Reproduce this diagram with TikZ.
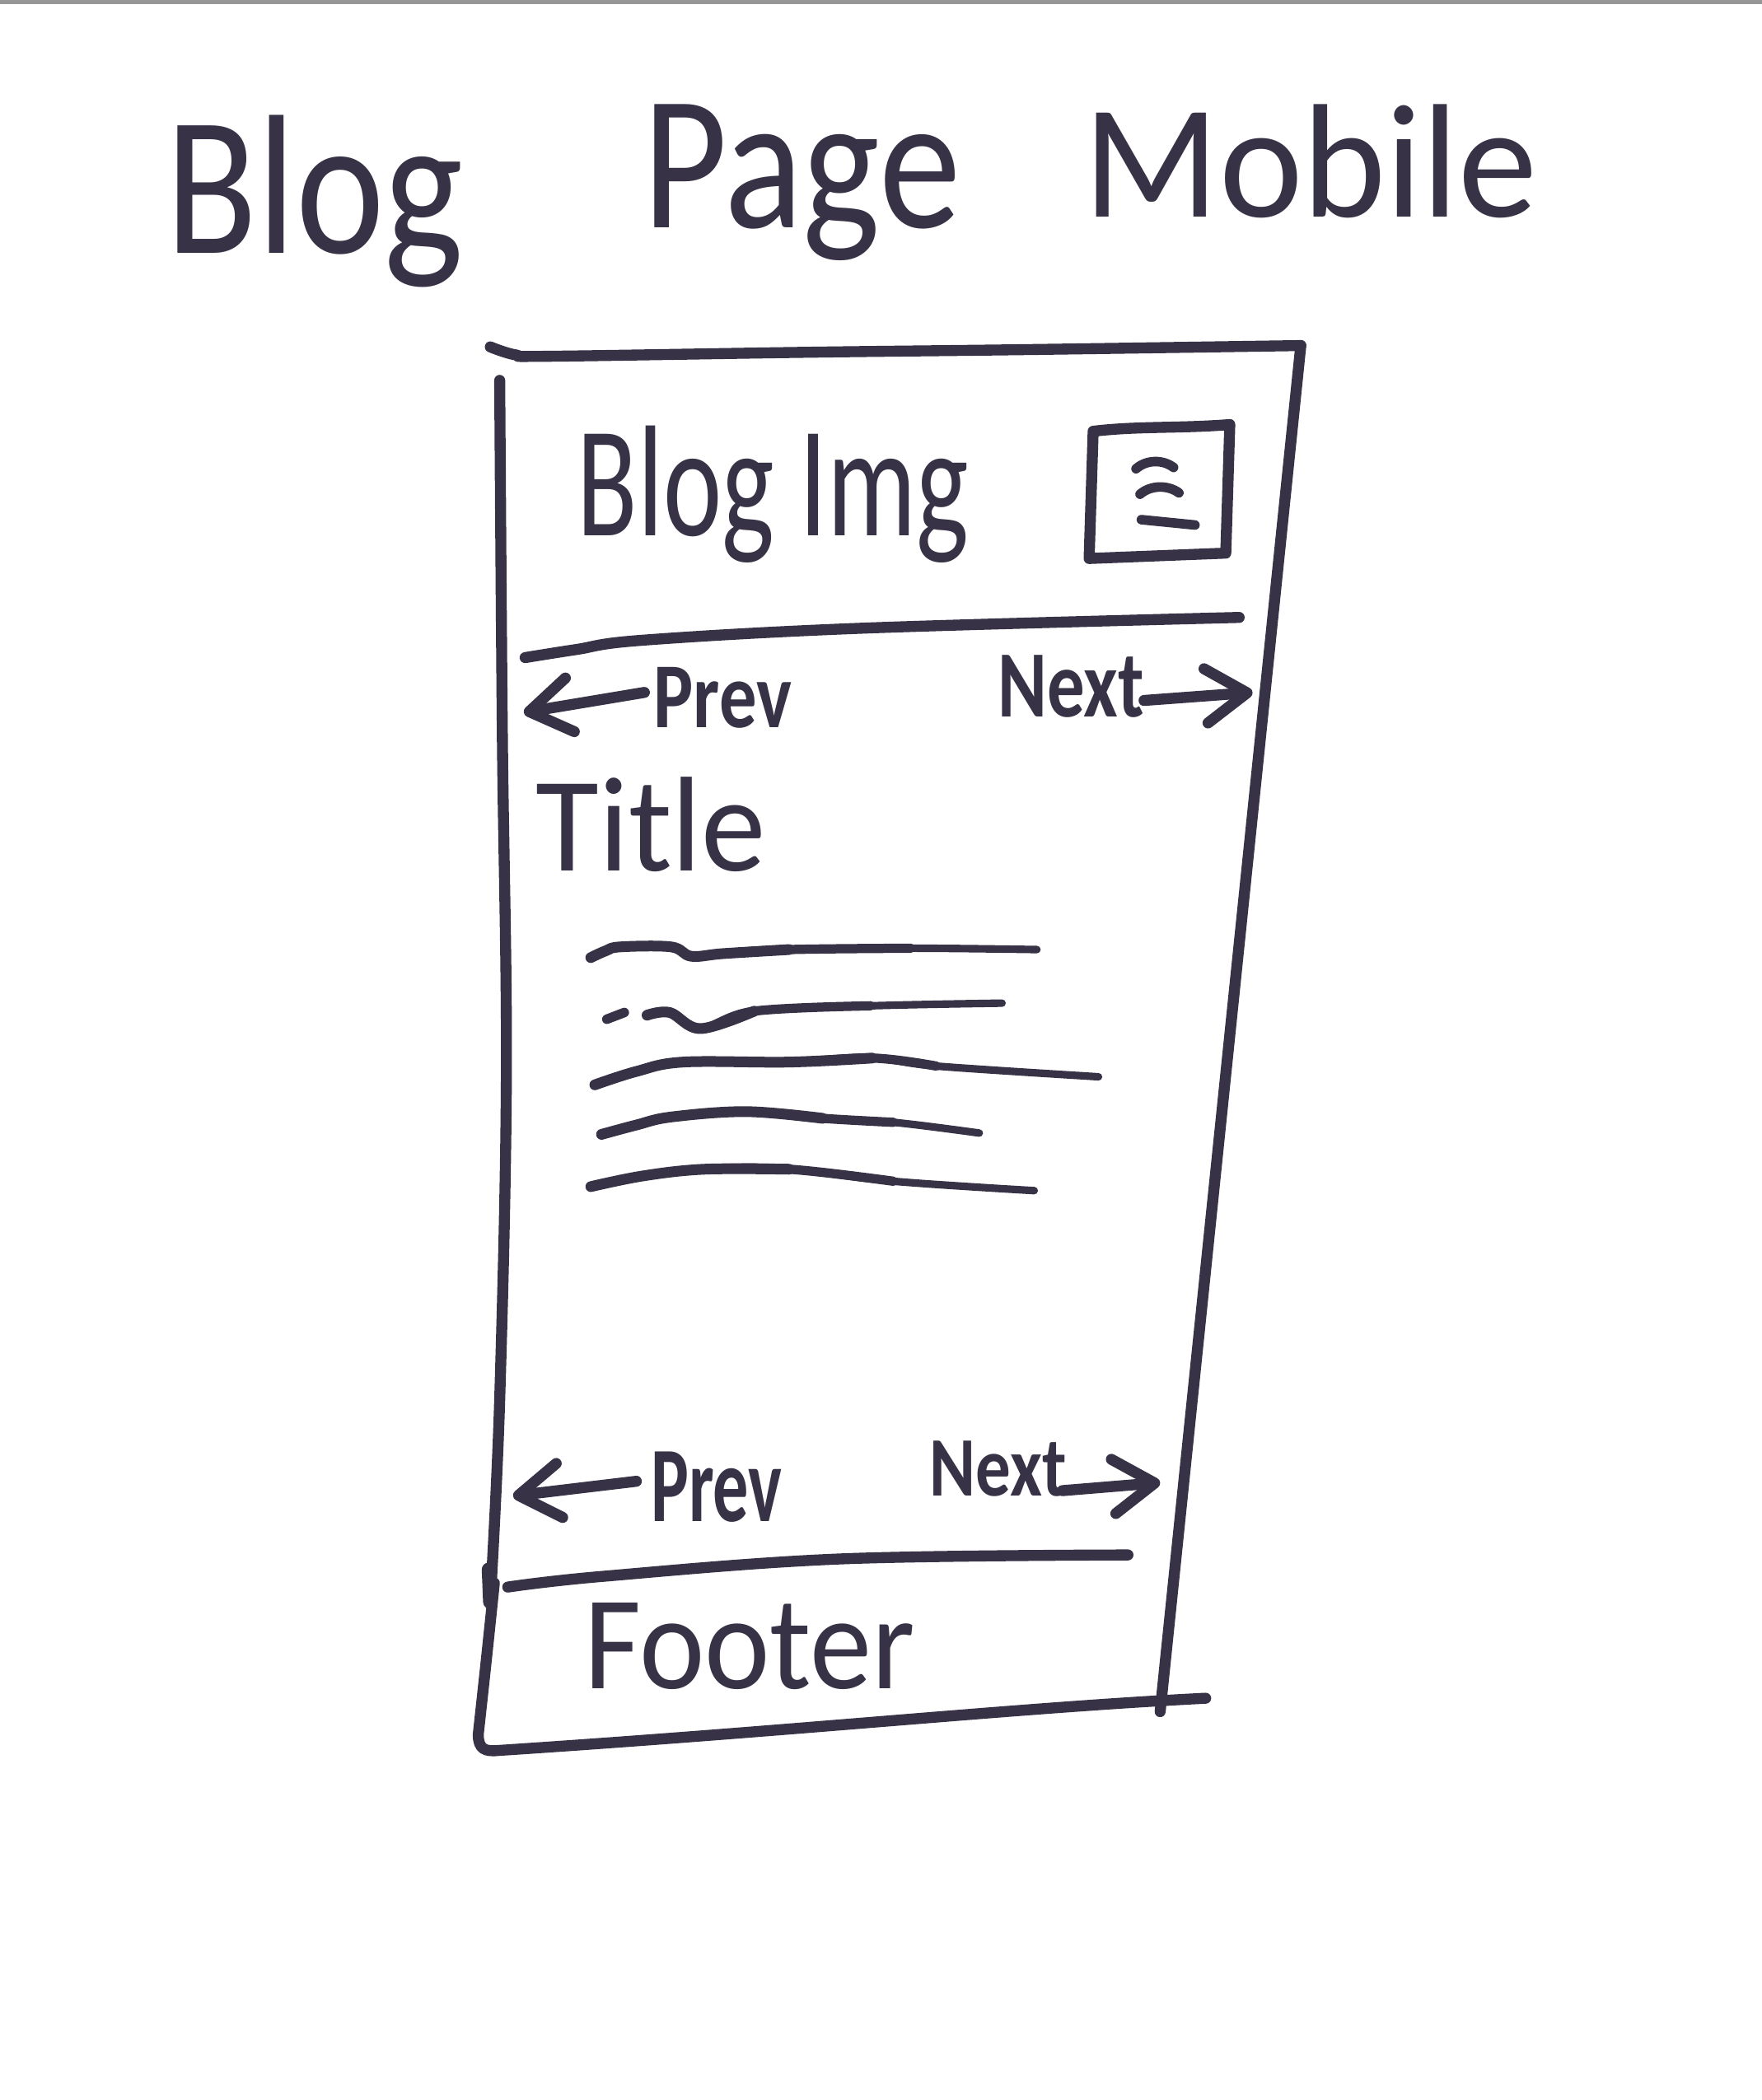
\documentclass[tikz,border=0pt]{standalone}
\usepackage{fontspec}
\setmainfont{Carlito}
\usetikzlibrary{arrows.meta}
\definecolor{ink}{RGB}{56,50,70}
\definecolor{scanedge}{RGB}{150,150,150}
% one drawing unit, as a TeX length, for sizing the words
\newlength\inkunit
\setlength\inkunit{0.01626cm}
% a word squeezed into a box of given width and height (in drawing units)
\newcommand\penword[3]{\resizebox{#1\inkunit}{#2\inkunit}{#3}}

\begin{document}
\begin{tikzpicture}[x=0.01626cm,y=-0.01626cm,
  pen/.style={draw=ink, line width=3.8pt, line cap=round, line join=round},
  fine/.style={draw=ink, line width=3.3pt, line cap=round, line join=round},
  thick stroke/.style={draw=ink, line width=3.7pt, line cap=round, line join=round},
  mid stroke/.style={draw=ink, line width=3.2pt, line cap=round, line join=round},
  thin tail/.style={draw=ink, line width=2.6pt, line cap=round, line join=round},
  word/.style={inner sep=0pt, outer sep=0pt, anchor=base west, text=ink},
  penarrow/.style={pen, -{Straight Barb[length=0.5cm, width=0.66cm, round]}},
]
% paper
\fill[white] (0,0) rectangle (1315,1568);
\useasboundingbox (0,0) rectangle (1315,1568);
\fill[scanedge] (0,0) rectangle (1315,3);

% heading
\node[word] (hBlog)   at (124,189) {\penword{222}{103}{Blog}};
\node[word] (hPage)   at (480,170) {\penword{237}{92}{Page}};
\node[word] (hMobile) at (809,162) {\penword{339}{84}{Mobile}};

% phone frame
\draw[pen] plot[smooth, tension=0.6] coordinates {(366,259)(385,265)(410,266)(604,263)(769,261)(971,258)};
\draw[pen] (971,258) -- (866,1278);
\draw[pen] plot[smooth, tension=0.6] coordinates {(373,284)(375,550)(378,800)(373,1045)(366,1195)};
\draw[pen] (369,1182) .. controls (363,1240) .. (357,1295)
           .. controls (357,1306) and (362,1308) .. (372,1307)
           .. controls (600,1292) and (760,1275) .. (900,1268);
\draw[ink, line width=5pt, line cap=round] (365,1172) -- (366,1196);

% header bar
\node[word] (logo) at (431,400) {\penword{292}{82}{Blog Img}};
\draw[pen] (816,322) .. controls (850,318) and (880,320) .. (918,317)
           -- (915,413) -- (813,417) -- cycle;
\draw[fine] (848,350) .. controls (856,343) and (868,343) .. (876,349);
\draw[fine] (851,369) .. controls (859,362) and (872,362) .. (880,368);
\draw[fine] (852,388) -- (892,392);
\draw[pen] plot[smooth, tension=0.6] coordinates {(392,491)(430,485)(480,478)(645,469)(925,461)};

% top pager
\node[word] (prevTop) at (488,543) {\penword{103}{45}{\bfseries Prev}};
\node[word] (nextTop) at (745,535) {\penword{109}{46}{\bfseries Next}};
\coordinate (prevTopTail) at (481,517);
\coordinate (prevTopTip)  at (391,532);
\coordinate (nextTopTail) at (854,523);
\coordinate (nextTopTip)  at (935,517);
\draw[penarrow] (prevTopTail) -- (prevTopTip);
\draw[penarrow] (nextTopTail) -- (nextTopTip);

% post title and text lines (heavy start, thinning tail)
\node[word] (title) at (400,650) {\penword{172}{70}{Title}};
\draw[thin tail] plot[smooth, tension=0.6] coordinates {(441,715)(452,710)(463,707)(501,707)(516,714)(540,712)(589,709)(680,708)(774,709)};
\draw[mid stroke] plot[smooth, tension=0.6] coordinates {(441,715)(452,710)(463,707)(501,707)(516,714)(540,712)(589,709)(680,708)};
\draw[thick stroke] plot[smooth, tension=0.6] coordinates {(441,715)(452,710)(463,707)(501,707)(516,714)(540,712)(589,709)};
\draw[fine] (453,761) -- (466,756);
\draw[thin tail] plot[smooth, tension=0.6] coordinates {(483,758)(500,756)(523,768)(563,755)(650,751)(748,749)};
\draw[mid stroke] plot[smooth, tension=0.6] coordinates {(483,758)(500,756)(523,768)(563,755)(650,751)};
\draw[thick stroke] plot[smooth, tension=0.6] coordinates {(483,758)(500,756)(523,768)(563,755)};
\draw[thin tail] plot[smooth, tension=0.6] coordinates {(444,810)(475,800)(510,793)(589,793)(651,790)(699,796)(820,804)};
\draw[mid stroke] plot[smooth, tension=0.6] coordinates {(444,810)(475,800)(510,793)(589,793)(651,790)(699,796)};
\draw[thick stroke] plot[smooth, tension=0.6] coordinates {(444,810)(475,800)(510,793)(589,793)(651,790)};
\draw[thin tail] plot[smooth, tension=0.6] coordinates {(449,847)(475,840)(501,834)(557,830)(614,835)(667,838)(731,846)};
\draw[mid stroke] plot[smooth, tension=0.6] coordinates {(449,847)(475,840)(501,834)(557,830)(614,835)(667,838)};
\draw[thick stroke] plot[smooth, tension=0.6] coordinates {(449,847)(475,840)(501,834)(557,830)(614,835)};
\draw[thin tail] plot[smooth, tension=0.6] coordinates {(441,886)(480,878)(526,873)(589,873)(667,882)(772,889)};
\draw[mid stroke] plot[smooth, tension=0.6] coordinates {(441,886)(480,878)(526,873)(589,873)(667,882)};
\draw[thick stroke] plot[smooth, tension=0.6] coordinates {(441,886)(480,878)(526,873)(589,873)};

% bottom pager
\node[word] (prevBot) at (486,1136) {\penword{98}{52}{\bfseries Prev}};
\node[word] (nextBot) at (694,1117) {\penword{102}{41}{\bfseries Next}};
\coordinate (prevBotTail) at (475,1106);
\coordinate (prevBotTip)  at (383,1117);
\coordinate (nextBotTail) at (793,1113);
\coordinate (nextBotTip)  at (866,1107);
\draw[penarrow] (prevBotTail) -- (prevBotTip);
\draw[penarrow] (nextBotTail) -- (nextBotTip);

% footer
\draw[pen] plot[smooth, tension=0.6] coordinates {(379,1185)(450,1177)(627,1164)(842,1161)};
\node[word] (footer) at (436,1261) {\penword{247}{64}{Footer}};
\end{tikzpicture}
\end{document}
